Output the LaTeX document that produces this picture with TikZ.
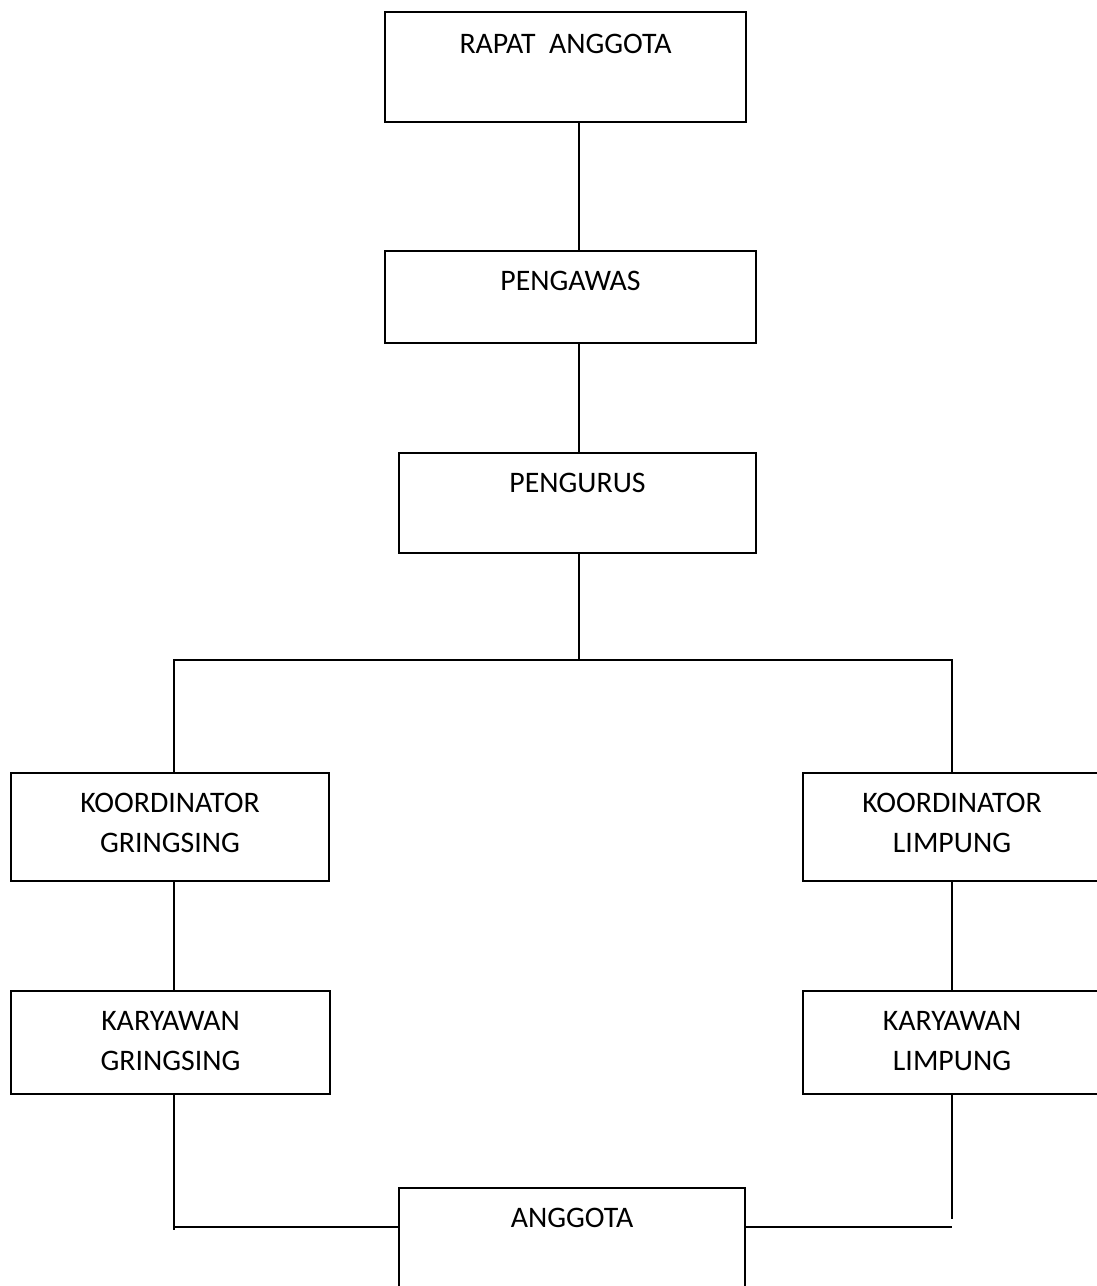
\documentclass[tikz,border=0pt]{standalone}
\usepackage{fontspec}
\setmainfont{Carlito}
\begin{document}
\begin{tikzpicture}[x=0.5pt,y=-0.5pt,line width=1pt,
  box/.style={draw,rectangle,inner sep=0pt,anchor=north west},
  txt/.style={anchor=north,inner sep=0pt,align=center,font=\fontsize{14.9}{20}\selectfont}]
\useasboundingbox (0,0) rectangle (1097,1286);

\node[box,minimum width=180.5pt,minimum height=55pt](rapat) at (384,11) {};
\node[box,minimum width=185.5pt,minimum height=46pt](pengawas) at (384,250) {};
\node[box,minimum width=178.5pt,minimum height=50pt](pengurus) at (398,452) {};
\node[box,minimum width=159pt,minimum height=54pt](korgr) at (10,772) {};
\node[box,minimum width=149pt,minimum height=54pt](korli) at (802,772) {};
\node[box,minimum width=159.5pt,minimum height=51.5pt](kargr) at (10,990) {};
\node[box,minimum width=149pt,minimum height=51.5pt](karli) at (802,990) {};
\node[box,minimum width=173pt,minimum height=57.5pt](anggota) at (398,1187) {};

\node[txt](rapat-t) at ([yshift=-11pt]rapat.north) {RAPAT\hspace{0.45em}ANGGOTA};
\node[txt](pengawas-t) at ([yshift=-10pt]pengawas.north) {PENGAWAS};
\node[txt](pengurus-t) at ([yshift=-10pt]pengurus.north) {PENGURUS};
\node[txt](korgr-t) at ([yshift=-10pt]korgr.north) {KOORDINATOR\\GRINGSING};
\node[txt](korli-t) at ([yshift=-10pt]korli.north) {KOORDINATOR\\LIMPUNG};
\node[txt](kargr-t) at ([yshift=-10pt]kargr.north) {KARYAWAN\\GRINGSING};
\node[txt](karli-t) at ([yshift=-10pt]karli.north) {KARYAWAN\\LIMPUNG};
\node[txt](anggota-t) at ([yshift=-10pt]anggota.north) {ANGGOTA};

\coordinate (spine) at (579,660);
\coordinate (busl) at (174,660);
\coordinate (busr) at (952,660);
\coordinate (footl) at (174,1227);
\coordinate (footr) at (952,1227);

\draw (rapat.south -| spine) -- (pengawas.north -| spine);
\draw (pengawas.south -| spine) -- (pengurus.north -| spine);
\draw (pengurus.south -| spine) -- (spine);
\draw (korgr.north -| busl) -- (busl) -- (busr) -- (korli.north -| busr);
\draw (korgr.south -| busl) -- (kargr.north -| busl);
\draw (korli.south -| busr) -- (karli.north -| busr);
\draw (kargr.south -| footl) -- ([shift={(0,3)}]footl);
\draw (footl) -- (anggota.west |- footl);
\draw (karli.south -| footr) -- ([shift={(0,-8)}]footr);
\draw (anggota.east |- footr) -- (footr);
\end{tikzpicture}
\end{document}
